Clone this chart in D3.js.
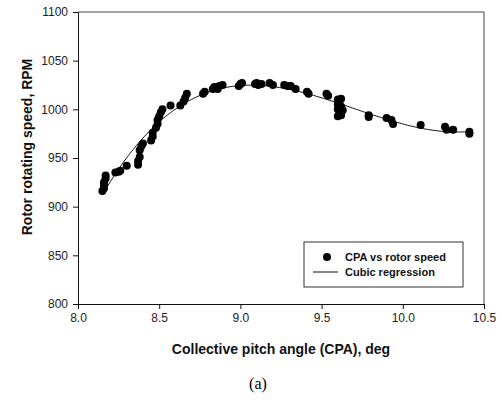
<!DOCTYPE html>
<html>
<head>
<meta charset="utf-8">
<script src="https://cdn.jsdelivr.net/npm/d3@7"></script>
<style>
  body { margin: 0; background: #fff; }
  svg { display: block; font-family: "Liberation Sans", Arial, sans-serif; }
  .tick-label { font-size: 12px; fill: #222; }
  .axis-title { font-size: 14px; font-weight: bold; fill: #111; }
  .legend-text { font-size: 11px; font-weight: bold; fill: #111; }
</style>
</head>
<body>
<svg id="chart" width="502" height="402"></svg>
<script>
"use strict";

// Scatter data: collective pitch angle (deg) vs rotor speed (RPM)
const cpa = [
  8.15, 8.16, 8.16, 8.16, 8.17, 8.17, 8.23, 8.25, 8.26, 8.30,
  8.37, 8.37, 8.38, 8.38, 8.39, 8.40, 8.45, 8.46, 8.46, 8.48,
  8.49, 8.49, 8.50, 8.51, 8.52, 8.57, 8.63, 8.65, 8.66, 8.67,
  8.77, 8.78, 8.83, 8.84, 8.86, 8.87, 8.89, 8.99, 9.00, 9.01,
  9.09, 9.10, 9.11, 9.13, 9.18, 9.20, 9.27, 9.29, 9.31, 9.34,
  9.41, 9.42, 9.53, 9.54, 9.60, 9.61, 9.62, 9.60, 9.62, 9.60,
  9.63, 9.61, 9.62, 9.60, 9.79, 9.79, 9.90, 9.93, 9.94, 10.11,
  10.26, 10.27, 10.31, 10.41, 10.41
];
const rpm = [
  916, 919, 922, 925, 929, 932, 935, 936, 937, 942,
  943, 947, 951, 958, 962, 965, 968, 972, 976, 981,
  985, 989, 993, 997, 1000, 1004, 1004, 1008, 1012, 1016,
  1016, 1018, 1021, 1023, 1021, 1024, 1025, 1024, 1026, 1027,
  1026, 1027, 1025, 1026, 1027, 1025, 1025, 1024, 1024, 1021,
  1018, 1016, 1016, 1014, 1010, 1008, 1011, 1005, 1003, 1000,
  999, 996, 994, 993, 994, 992, 991, 989, 985, 984,
  982, 979, 979, 977, 975
];

const xTicks = [8.0, 8.5, 9.0, 9.5, 10.0, 10.5];
const yTicks = [800, 850, 900, 950, 1000, 1050, 1100];
const legendLabels = ["CPA vs rotor speed", "Cubic regression"];

const plot = { left: 78, right: 484, top: 12, bottom: 304 };

const svg = d3.select("#chart");

const x = d3.scaleLinear().domain([8.0, 10.5]).range([plot.left, plot.right]);
const y = d3.scaleLinear().domain([800, 1100]).range([plot.bottom, plot.top]);

// Least-squares cubic fit of the scatter (the "cubic regression" line).
const cubicFit = (xs, ys) => {
  const x0 = 9;
  const n = 4;
  const A = Array.from({length: n}, () => new Array(n + 1).fill(0));
  xs.forEach((xv, k) => {
    const t = xv - x0;
    const p = [1, t, t * t, t * t * t];
    for (let i = 0; i < n; i++) {
      for (let j = 0; j < n; j++) A[i][j] += p[i] * p[j];
      A[i][n] += p[i] * ys[k];
    }
  });
  for (let i = 0; i < n; i++) {
    let m = i;
    for (let r = i + 1; r < n; r++) if (Math.abs(A[r][i]) > Math.abs(A[m][i])) m = r;
    [A[i], A[m]] = [A[m], A[i]];
    for (let r = 0; r < n; r++) {
      if (r === i) continue;
      const f = A[r][i] / A[i][i];
      for (let c = i; c <= n; c++) A[r][c] -= f * A[i][c];
    }
  }
  const c = A.map((row, i) => row[n] / row[i]);
  return (xv) => {
    const t = xv - x0;
    return c[0] + c[1] * t + c[2] * t * t + c[3] * t * t * t;
  };
};

const fit = cubicFit(cpa, rpm);

// Frame (top and right lines)
svg.append("path")
    .attr("d", `M${plot.left},${plot.top}H${plot.right}V${plot.bottom}`)
    .attr("fill", "none")
    .attr("stroke", "#444")
    .attr("stroke-width", 1);

// X axis
const xAxis = svg.append("g")
    .attr("transform", `translate(0,${plot.bottom})`);
xAxis.call(d3.axisBottom(x).tickValues(d3.range(80, 106).map((d) => d / 10))
    .tickSize(3).tickFormat(""));
xAxis.call(d3.axisBottom(x).tickValues(xTicks).tickSize(5).tickFormat(d3.format(".1f")))
    .call((g) => g.selectAll("text").attr("class", "tick-label").attr("dy", "0.9em").attr("y", 7));
xAxis.selectAll(".domain").attr("stroke", "#111");
xAxis.selectAll("line").attr("stroke", "#111");

// Y axis
const yAxis = svg.append("g")
    .attr("transform", `translate(${plot.left},0)`);
yAxis.call(d3.axisLeft(y).tickValues(d3.range(800, 1101, 10)).tickSize(3).tickFormat(""));
yAxis.call(d3.axisLeft(y).tickValues(yTicks).tickSize(5).tickFormat(d3.format("d")))
    .call((g) => g.selectAll("text").attr("class", "tick-label").attr("x", -10));
yAxis.selectAll(".domain").attr("stroke", "#111");
yAxis.selectAll("line").attr("stroke", "#111");
svg.selectAll("g").attr("font-family", null).attr("font-size", null);

// Regression curve
const curveX = d3.range(8.15, 10.4001, 0.01);
svg.append("path")
    .datum(curveX)
    .attr("fill", "none")
    .attr("stroke", "#111")
    .attr("stroke-width", 1)
    .attr("d", d3.line().x((d) => x(d)).y((d) => y(fit(d))));

// Points
svg.append("g")
    .selectAll("circle")
    .data(cpa.map((c, i) => [c, rpm[i]]))
    .join("circle")
    .attr("cx", (d) => x(d[0]))
    .attr("cy", (d) => y(d[1]))
    .attr("r", 4)
    .attr("fill", "#000");

// Axis titles
svg.append("text")
    .attr("class", "axis-title")
    .attr("x", (plot.left + plot.right) / 2)
    .attr("y", 354)
    .attr("text-anchor", "middle")
    .text("Collective pitch angle (CPA), deg");

svg.append("text")
    .attr("class", "axis-title")
    .attr("transform", "translate(32,147) rotate(-90)")
    .attr("text-anchor", "middle")
    .text("Rotor rotating speed, RPM");

// Legend
const legend = svg.append("g").attr("transform", "translate(304,242)");
legend.append("rect")
    .attr("width", 159)
    .attr("height", 45)
    .attr("fill", "#fff")
    .attr("stroke", "#333")
    .attr("stroke-width", 1);
legend.append("circle")
    .attr("cx", 23)
    .attr("cy", 15)
    .attr("r", 4)
    .attr("fill", "#000");
legend.append("line")
    .attr("x1", 9).attr("x2", 34)
    .attr("y1", 30).attr("y2", 30)
    .attr("stroke", "#111");
legend.selectAll("text.legend-text")
    .data(legendLabels)
    .join("text")
    .attr("class", "legend-text")
    .attr("x", 41)
    .attr("y", (d, i) => 19 + i * 15)
    .text((d) => d);

// Panel label
svg.append("text")
    .attr("x", 258)
    .attr("y", 389)
    .attr("text-anchor", "middle")
    .style("font-family", "'Liberation Serif', 'Times New Roman', serif")
    .style("font-size", "16px")
    .text("(a)");
</script>
</body>
</html>
